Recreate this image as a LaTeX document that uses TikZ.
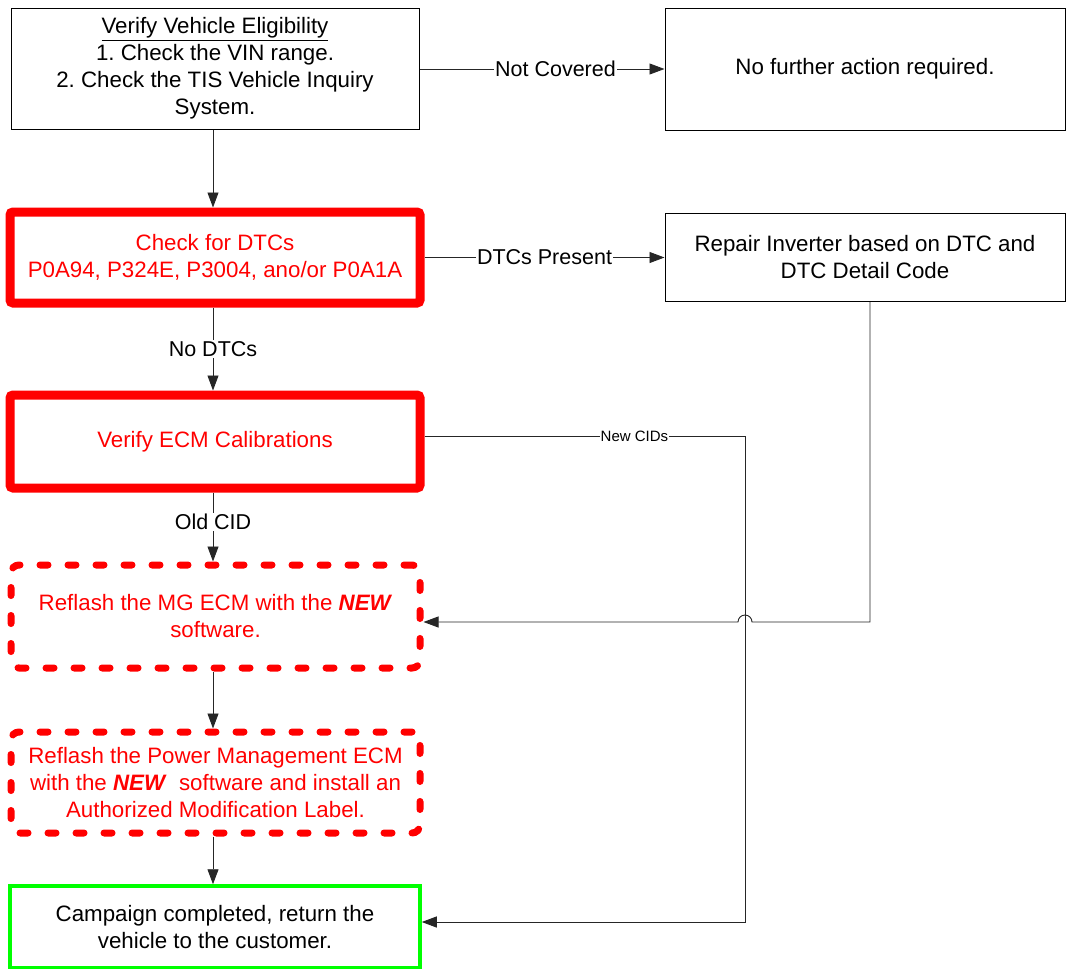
\documentclass[tikz,border=0pt]{standalone}
\usepackage{fontspec}
\setmainfont{Liberation Sans}
\usetikzlibrary{arrows.meta}
\definecolor{rd}{RGB}{255,0,0}
\definecolor{gr}{RGB}{0,255,0}
\frenchspacing
\begin{document}
\begin{tikzpicture}[x=1pt,y=-1pt,
 box/.style={draw=black,line width=1pt,inner sep=0pt,align=center,font=\fontsize{22.3}{27}\selectfont},
 redbox/.style={box,draw=rd,text=rd,line width=9pt,rounded corners=3pt},
 dashbox/.style={box,draw=rd,text=rd,line width=7pt,line cap=round,dash pattern=on 8pt off 20pt,rounded corners=8pt},
 greenbox/.style={box,draw=gr,line width=3.5pt},
 conn/.style={line width=0.9pt,draw=black!85},
 arr/.style={conn,-{Triangle[length=15pt,width=11pt]}},
 lbl/.style={fill=white,inner sep=1pt,font=\fontsize{21.5}{24}\selectfont},
 slbl/.style={fill=white,inner sep=1pt,font=\fontsize{15}{18}\selectfont}]
\useasboundingbox (0,0) rectangle (1066,969);
\fill[white] (0,0) rectangle (1066,969);

\node[box,minimum width=408pt,minimum height=121pt] (b1) at (215,68.5)
  {\underline{Verify Vehicle Eligibility}\\1. Check the VIN range.\\2. Check the TIS Vehicle Inquiry\\System.};
\node[box,minimum width=400pt,minimum height=122pt] (b2) at (865,69)
  {No further action required.};
\node[redbox,minimum width=410pt,minimum height=91pt] (b3) at (215,257.5)
  {Check for DTCs\\P0A94, P324E, P3004, ano/or P0A1A};
\node[box,minimum width=400pt,minimum height=88pt] (b8) at (865,257.5)
  {Repair Inverter based on DTC and\\DTC Detail Code};
\node[redbox,minimum width=410pt,minimum height=93pt] (b4) at (215,441.5)
  {Verify ECM Calibrations};
\node[dashbox,minimum width=409pt,minimum height=103pt] (b5) at (215.5,616.5)
  {Reflash the MG ECM with the \textbf{\textit{NEW}}\\software.};
\node[dashbox,minimum width=409pt,minimum height=101pt] (b6) at (215.5,782.5)
  {Reflash the Power Management ECM\\with the \textbf{\textit{NEW}}\ \ software and install an\\Authorized Modification Label.};
\node[greenbox,minimum width=410pt,minimum height=82pt] (b7) at (215,927)
  {Campaign completed, return the\\vehicle to the customer.};

\coordinate (nc) at (745,436);
\coordinate (nd) at (745,922);
\coordinate (ra) at (870,622);
\coordinate (jr) at (752,622);
\coordinate (vx) at (213,0);
\coordinate (nl) at (0,69);

\draw[arr] (b1.south -| vx) -- (b3.north -| vx);
\draw[arr] (b1.east |- nl) -- node[lbl,pos=0.555] {Not Covered} (b2.west |- nl);
\draw[arr] (b3.east) -- node[lbl,pos=0.5] {DTCs Present} (b8.west |- b3.east);
\draw[arr] (b3.south -| vx) -- node[lbl,pos=0.5] {No DTCs} (b4.north -| vx);
\draw[arr] (b4.south -| vx) -- node[lbl,pos=0.43] {Old CID} (b5.north -| vx);
\draw[arr] (b5.south -| vx) -- (b6.north -| vx);
\draw[arr] (b6.south -| vx) -- (b7.north -| vx);
\draw[arr] (b4.east |- nc) -- node[slbl,pos=0.655] {New CIDs} (nc) -- (nd) -- (b7.east |- nd);
\draw[arr] (ra |- b8.south) -- (ra) -- (jr) arc[start angle=0,end angle=-180,radius=7] -- (b5.east |- ra);
\end{tikzpicture}
\end{document}
